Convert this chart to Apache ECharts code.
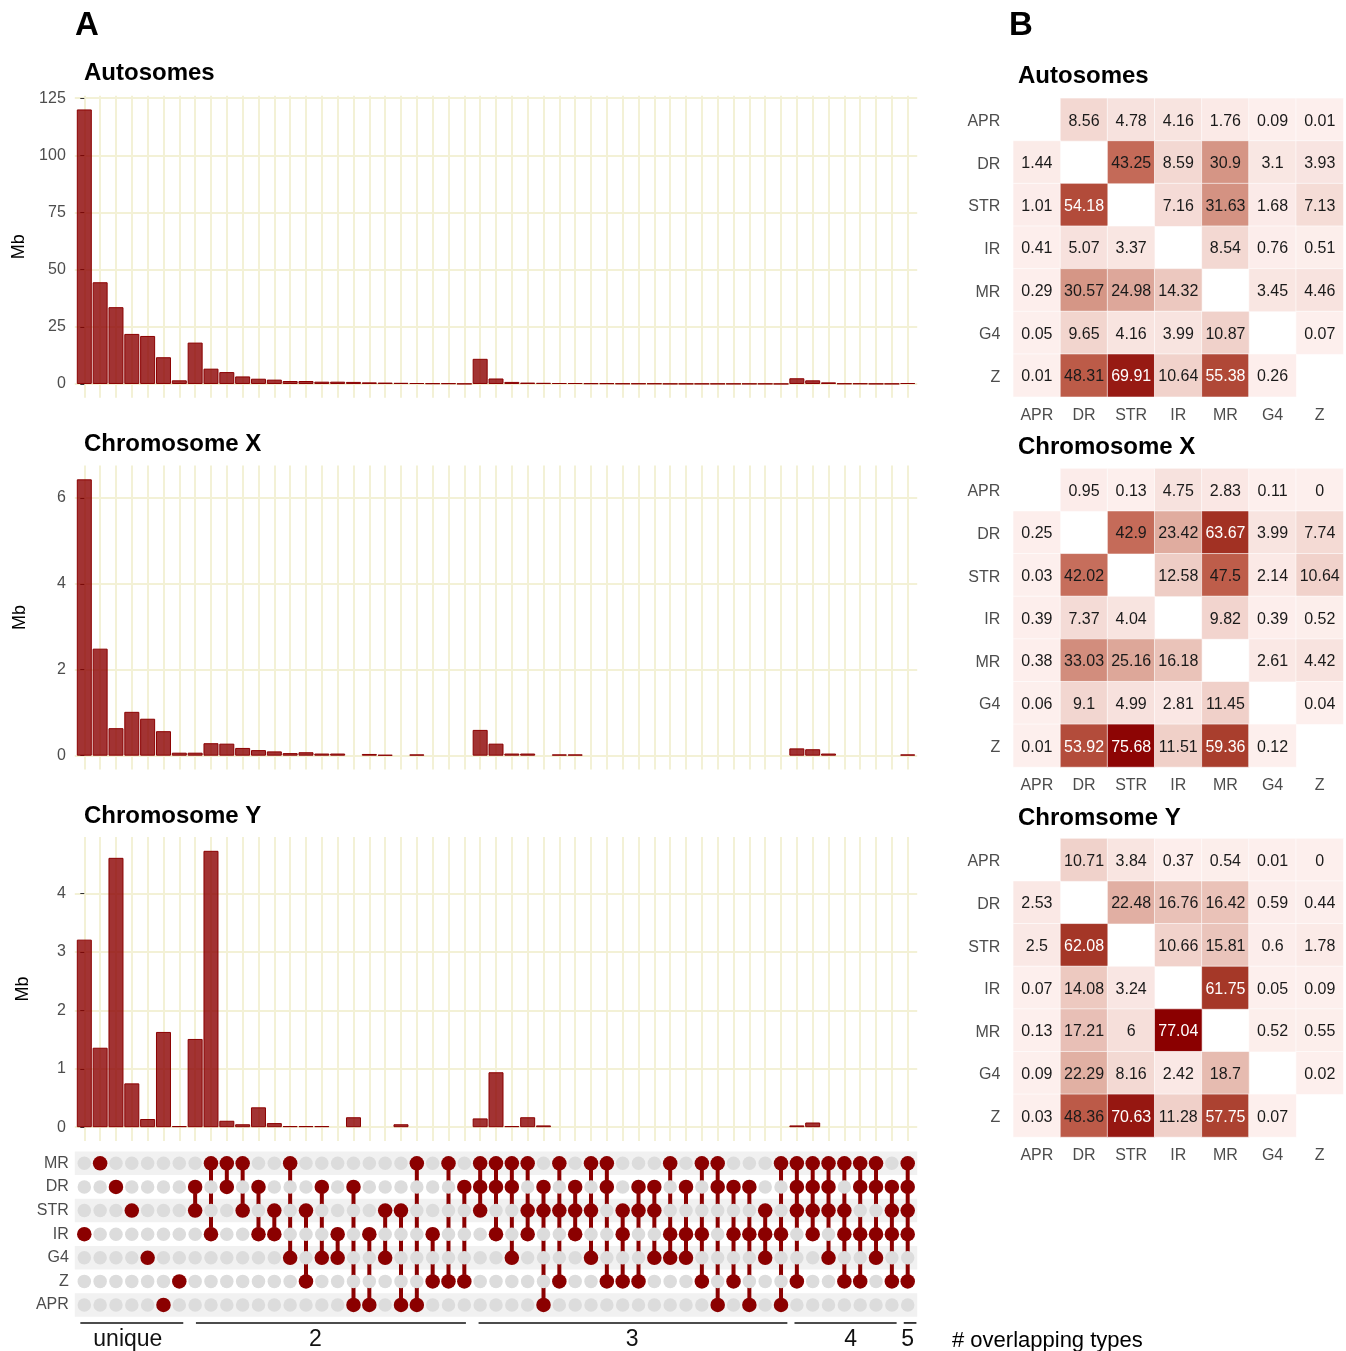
<!DOCTYPE html>
<html><head><meta charset="utf-8">
<script src="https://cdn.jsdelivr.net/npm/echarts@6/dist/echarts.min.js"></script>
<style>html,body{margin:0;padding:0;background:#fff}#c{width:1346px;height:1351px}</style>
</head><body><div id="c"></div>
<script>
// ---------- DATA ----------
const sets = ['MR','DR','STR','IR','G4','Z','APR'];
const combos = ['IR','MR','DR','STR','G4','APR','Z',
 'DR&STR','MR&IR','MR&DR','MR&STR','DR&IR','STR&IR','MR&G4','STR&Z','DR&G4','IR&G4','DR&APR','IR&APR','STR&G4','STR&APR','MR&APR','IR&Z','MR&Z','DR&Z',
 'MR&DR&STR','MR&DR&IR','MR&DR&G4','MR&STR&IR','DR&STR&APR','MR&STR&Z','DR&STR&IR','MR&STR&G4','MR&DR&Z','STR&IR&Z','DR&STR&Z','DR&STR&G4','MR&IR&G4','DR&IR&G4','MR&IR&Z','MR&DR&APR','DR&IR&Z','DR&IR&APR','STR&IR&G4','MR&IR&APR',
 'MR&DR&STR&Z','MR&DR&STR&IR','MR&DR&STR&G4','MR&STR&IR&Z','MR&DR&IR&Z','MR&DR&IR&G4','DR&STR&IR&Z',
 'MR&DR&STR&IR&Z'];
const autosomeMb = [120.1,44.5,33.6,21.9,21.0,11.7,1.6,
 18.1,6.7,5.2,3.3,2.3,1.9,1.3,1.3,1.0,1.0,0.9,0.7,0.6,0.5,0.4,0.3,0.3,0.1,
 11.0,2.4,0.9,0.6,0.5,0.4,0.4,0.3,0.3,0.2,0.2,0.2,0.1,0.1,0.1,0.1,0.1,0.1,0.1,0.05,
 2.5,1.6,0.7,0.2,0.2,0.1,0.1,
 0.4];
const chrXMb = [6.43,2.49,0.64,1.02,0.86,0.57,0.07,
 0.07,0.29,0.28,0.18,0.13,0.10,0.06,0.08,0.05,0.05,null,0.04,0.02,null,0.03,null,null,null,
 0.60,0.28,0.05,0.05,null,0.03,0.03,null,null,null,null,null,null,null,null,null,null,null,null,null,
 0.17,0.15,0.05,null,null,null,null,
 0.03];
const chrYMb = [3.21,1.36,4.61,0.75,0.14,1.63,0.02,
 1.51,4.73,0.11,0.05,0.34,0.07,0.02,0.02,0.02,null,0.17,null,null,0.05,null,null,null,null,
 0.15,0.94,0.02,0.17,0.03,null,null,null,null,null,null,null,null,null,null,null,null,null,null,null,
 0.03,0.08,null,null,null,null,null,
 null];
const autosomeTicks = [0,25,50,75,100,125];
const chrXTicks = [0,2,4,6];
const chrYTicks = [0,1,2,3,4];
const groupLabels = ['unique','2','3','4','5'];
const groupSpans = [[-0.25,6.25],[7.05,24.1],[24.9,44.4],[44.85,51.3],[51.75,52.55]];
const groupLabelAt = [2.75,14.6,34.6,48.4,52.0];

const hmTypes = ['APR','DR','STR','IR','MR','G4','Z'];
const hmAutosomes = [
 [null,8.56,4.78,4.16,1.76,0.09,0.01],
 [1.44,null,43.25,8.59,30.9,3.1,3.93],
 [1.01,54.18,null,7.16,31.63,1.68,7.13],
 [0.41,5.07,3.37,null,8.54,0.76,0.51],
 [0.29,30.57,24.98,14.32,null,3.45,4.46],
 [0.05,9.65,4.16,3.99,10.87,null,0.07],
 [0.01,48.31,69.91,10.64,55.38,0.26,null]];
const hmChrX = [
 [null,0.95,0.13,4.75,2.83,0.11,0],
 [0.25,null,42.9,23.42,63.67,3.99,7.74],
 [0.03,42.02,null,12.58,47.5,2.14,10.64],
 [0.39,7.37,4.04,null,9.82,0.39,0.52],
 [0.38,33.03,25.16,16.18,null,2.61,4.42],
 [0.06,9.1,4.99,2.81,11.45,null,0.04],
 [0.01,53.92,75.68,11.51,59.36,0.12,null]];
const hmChrY = [
 [null,10.71,3.84,0.37,0.54,0.01,0],
 [2.53,null,22.48,16.76,16.42,0.59,0.44],
 [2.5,62.08,null,10.66,15.81,0.6,1.78],
 [0.07,14.08,3.24,null,61.75,0.05,0.09],
 [0.13,17.21,6,77.04,null,0.52,0.55],
 [0.09,22.29,8.16,2.42,18.7,null,0.02],
 [0.03,48.36,70.63,11.28,57.75,0.07,null]];

// ---------- STYLE / LAYOUT ----------
const FONT = 'Liberation Sans, Arial, Helvetica, sans-serif';
const GRIDC = '#f3f1d6';
const RED = '#8b0000';
const X_MIN = -0.6, X_MAX = 52.6;
const colIdx = combos.map((_, i) => i);
const PL = 74.8, PW = 842.4;

const grids = [
 {left: PL, width: PW, top: 95.7, height: 302},
 {left: PL, width: PW, top: 465.5, height: 304},
 {left: PL, width: PW, top: 837, height: 304},
 {left: PL, width: PW, top: 1151.5, height: 165.3},
 {left: 1013.3, width: 330, top: 98.3, height: 298.5},
 {left: 1013.3, width: 330, top: 468.5, height: 298.5},
 {left: 1013.3, width: 330, top: 838.5, height: 298.5}
].map(g => Object.assign({containLabel: false, outerBoundsMode: 'none'}, g));

const xAxes = [], yAxes = [], series = [];

function expand(vals) {
  const m = Math.max(...vals.filter(v => v != null));
  return [-0.05 * m, 1.05 * m];
}

[[autosomeMb, autosomeTicks, 46], [chrXMb, chrXTicks, 46], [chrYMb, chrYTicks, 43]].forEach(([vals, ticks, gap], gi) => {
  const [lo, hi] = expand(vals);
  xAxes.push({gridIndex: gi, type: 'value', min: X_MIN, max: X_MAX,
    axisLine: {show: false}, axisTick: {show: false, customValues: colIdx},
    axisLabel: {show: false}, splitLine: {show: true, lineStyle: {color: GRIDC, width: 2}}});
  yAxes.push({gridIndex: gi, type: 'value', min: lo, max: hi,
    axisLine: {show: false},
    axisTick: {show: true, length: 4, customValues: ticks, lineStyle: {color: '#333', width: 1}},
    axisLabel: {customValues: ticks, fontSize: 16, color: '#4d4d4d', fontFamily: FONT, margin: 9},
    splitLine: {show: true, lineStyle: {color: GRIDC, width: 2}},
    name: 'Mb', nameLocation: 'middle', nameGap: gap,
    nameTextStyle: {fontSize: 18, color: '#000', fontFamily: FONT}});
  series.push({type: 'bar', xAxisIndex: gi, yAxisIndex: gi, barWidth: 15,
    data: vals.map((v, i) => [i, v]).filter(d => d[1] != null),
    itemStyle: {color: 'rgba(139,0,0,0.8)', borderColor: RED, borderWidth: 1},
    silent: true, animation: false});
});

// matrix
xAxes.push({gridIndex: 3, type: 'value', min: X_MIN, max: X_MAX, show: false});
yAxes.push({gridIndex: 3, type: 'value', min: -0.5, max: 6.5, inverse: true,
  axisLine: {show: false}, axisTick: {show: false, customValues: sets.map((_, i) => i)},
  splitLine: {show: false},
  axisLabel: {customValues: sets.map((_, i) => i), formatter: v => sets[v] || '',
    fontSize: 16, color: '#4d4d4d', fontFamily: FONT, margin: 6}});

const greyPts = [];
colIdx.forEach(i => sets.forEach((s, r) => greyPts.push([i, r])));
series.push({type: 'scatter', xAxisIndex: 3, yAxisIndex: 3, data: greyPts, symbolSize: 13.5,
  itemStyle: {color: '#dcdcdc', opacity: 1}, silent: true, animation: false,
  markArea: {silent: true, itemStyle: {color: '#f1f1f1', opacity: 1},
    data: [0, 2, 4, 6].map(r => [{xAxis: X_MIN, yAxis: r - 0.5}, {xAxis: X_MAX, yAxis: r + 0.5}])}});

const members = combos.map(c => c.split('&').map(s => sets.indexOf(s)));
const segs = [];
members.forEach((m, i) => { if (m.length > 1) segs.push([i, Math.min(...m), Math.max(...m)]); });
series.push({type: 'custom', xAxisIndex: 3, yAxisIndex: 3, data: segs, silent: true, animation: false,
  encode: {x: 0, y: [1, 2]},
  renderItem: (p, api) => {
    const a = api.coord([api.value(0), api.value(1)]);
    const b = api.coord([api.value(0), api.value(2)]);
    return {type: 'line', shape: {x1: a[0], y1: a[1], x2: b[0], y2: b[1]}, style: {stroke: RED, lineWidth: 4, opacity: 1}};
  }});
const redPts = [];
members.forEach((m, i) => m.forEach(r => redPts.push([i, r])));
series.push({type: 'scatter', xAxisIndex: 3, yAxisIndex: 3, data: redPts, symbolSize: 14.5,
  itemStyle: {color: RED, opacity: 1}, silent: true, animation: false});

// group annotation under the matrix
series.push({type: 'custom', xAxisIndex: 3, yAxisIndex: 3, clip: false, silent: true, animation: false,
  data: groupLabels.map((g, i) => [groupSpans[i][0], groupSpans[i][1], groupLabelAt[i]]),
  encode: {x: [0, 1, 2]},
  renderItem: (p, api) => {
    const i = p.dataIndex;
    const a = api.coord([groupSpans[i][0], 6.76]);
    const b = api.coord([groupSpans[i][1], 6.76]);
    const t = api.coord([groupLabelAt[i], 7.45]);
    return {type: 'group', children: [
      {type: 'line', shape: {x1: a[0], y1: a[1], x2: b[0], y2: b[1]}, style: {stroke: '#111', lineWidth: 1.6}},
      {type: 'text', x: t[0], y: t[1], style: {text: groupLabels[i], fontSize: 23, fontFamily: FONT, fill: '#111',
        textAlign: 'center', textVerticalAlign: 'middle'}}
    ]};
  }});

// heatmaps
const hmSeriesIdx = [];
[hmAutosomes, hmChrX, hmChrY].forEach((mat, k) => {
  const gi = 4 + k;
  xAxes.push({gridIndex: gi, type: 'category', data: hmTypes,
    axisLine: {show: false}, axisTick: {show: false}, splitLine: {show: false},
    axisLabel: {fontSize: 16, color: '#4d4d4d', fontFamily: FONT, margin: 11}});
  yAxes.push({gridIndex: gi, type: 'category', data: hmTypes, inverse: true,
    axisLine: {show: false}, axisTick: {show: false}, splitLine: {show: false},
    axisLabel: {fontSize: 16, color: '#4d4d4d', fontFamily: FONT, margin: 13,
      formatter: v => '{a|' + v + '}', rich: {a: {fontSize: 16, color: '#4d4d4d', fontFamily: FONT, padding: [4, 0, 0, 0]}}}});
  const data = [];
  mat.forEach((row, r) => row.forEach((v, c) => {
    if (v != null) data.push({value: [c, r, v], label: {color: v > 50 ? '#ffffff' : '#1a1a1a'}});
  }));
  hmSeriesIdx.push(series.length);
  series.push({type: 'heatmap', xAxisIndex: gi, yAxisIndex: gi, data,
    itemStyle: {borderColor: '#ffffff', borderWidth: 0.6},
    label: {show: true, fontSize: 16, fontFamily: FONT, offset: [0, 1.5], formatter: p => String(p.value[2])},
    silent: true, animation: false});
});

const textEl = (x, y, text, font) => ({type: 'text', x, y,
  style: {text, font, fill: '#000', textAlign: 'left', textVerticalAlign: 'middle'}});

const option = {
  backgroundColor: '#ffffff',
  animation: false,
  grid: grids,
  xAxis: xAxes,
  yAxis: yAxes,
  visualMap: {type: 'continuous', min: 0, max: 77.04, show: false, seriesIndex: hmSeriesIdx,
    inRange: {color: ['#fdefed', '#ebc5bc', '#d59585', '#c0604d', '#a53828', '#8b0000']}},
  series,
  graphic: [
    textEl(75, 26, 'A', 'bold 33px ' + FONT),
    textEl(1009, 26, 'B', 'bold 33px ' + FONT),
    textEl(84, 73, 'Autosomes', 'bold 24px ' + FONT),
    textEl(84, 444, 'Chromosome X', 'bold 24px ' + FONT),
    textEl(84, 816, 'Chromosome Y', 'bold 24px ' + FONT),
    textEl(1018, 76, 'Autosomes', 'bold 24px ' + FONT),
    textEl(1018, 447, 'Chromosome X', 'bold 24px ' + FONT),
    textEl(1018, 818, 'Chromsome Y', 'bold 24px ' + FONT),
    textEl(952, 1341, '# overlapping types', '22px ' + FONT)
  ]
};
const chart = echarts.init(document.getElementById('c'), null, {renderer: 'canvas'});
chart.setOption(option);
</script>
</body></html>
